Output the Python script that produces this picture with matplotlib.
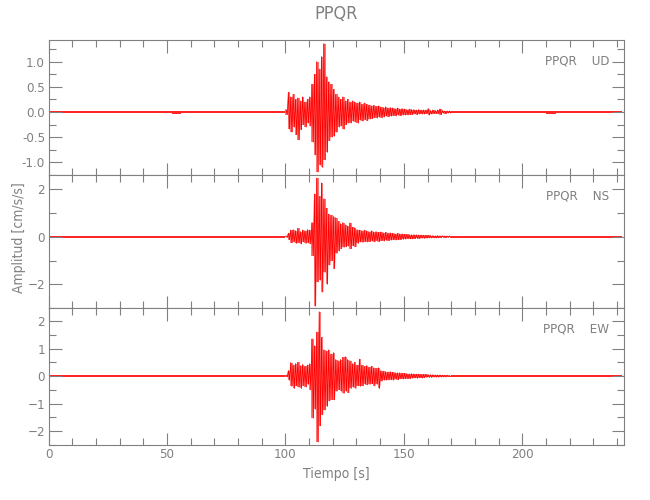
import numpy as np
import matplotlib.pyplot as plt
from matplotlib.ticker import MultipleLocator

plt.rcParams['font.family'] = ['DejaVu Sans']
plt.rcParams['font.stretch'] = 'condensed'
gray = '#808080'

station = 'PPQR'
components = ['UD', 'NS', 'EW']

# quiet parts: symmetric peak amplitude in 4 s bins
pre_t0 = 0
post_t0 = 170
quiet_dt = 4
ud_pre = [0.015, 0.015, 0.02, 0.015, 0.015, 0.02, 0.02, 0.015, 0.02, 0.015, 0.02, 0.02, 0.02,
          0.03, 0.025, 0.02, 0.02, 0.02, 0.02, 0.015, 0.02, 0.02, 0.025, 0.02, 0.02]
ud_post = [0.02, 0.02, 0.02, 0.02, 0.02, 0.02, 0.025, 0.02, 0.025, 0.025, 0.03, 0.025, 0.025,
           0.025, 0.025, 0.025, 0.025, 0.02]
ns_pre = [0.035] * 25
ns_post = [0.04, 0.035, 0.035, 0.035, 0.035, 0.035, 0.035, 0.035, 0.035, 0.035, 0.035, 0.035,
           0.035, 0.035, 0.035, 0.035, 0.035, 0.035]
ew_pre = [0.03] * 25
ew_post = [0.03] * 18

# event: upper / lower peaks in 1 s bins, 100 s .. 169 s
burst_t0 = 100
ud_up = [0.05, 0.39, 0.30, 0.35, 0.25, 0.28, 0.22, 0.30, 0.20, 0.25,
         0.30, 0.55, 0.75, 1.00, 0.85, 1.10, 1.36, 0.70, 0.60, 0.55,
         0.45, 0.35, 0.30, 0.25, 0.30, 0.22, 0.25, 0.20, 0.22, 0.20,
         0.18, 0.20, 0.16, 0.18, 0.15, 0.14, 0.12, 0.13, 0.11, 0.12,
         0.10, 0.09, 0.10, 0.08, 0.09, 0.08, 0.07, 0.08, 0.06, 0.07,
         0.06, 0.05, 0.06, 0.05, 0.05, 0.04, 0.05, 0.04, 0.04, 0.04,
         0.07, 0.03, 0.04, 0.03, 0.04, 0.06, 0.03, 0.02, 0.02, 0.02]
ud_lo = [-0.05, -0.34, -0.40, -0.30, -0.45, -0.55, -0.35, -0.25, -0.30, -0.22,
         -0.28, -0.60, -0.85, -1.19, -1.05, -1.10, -0.95, -0.80, -0.57, -0.50,
         -0.48, -0.40, -0.30, -0.28, -0.34, -0.25, -0.22, -0.22, -0.18, -0.20,
         -0.22, -0.16, -0.18, -0.15, -0.17, -0.14, -0.13, -0.11, -0.12, -0.10,
         -0.11, -0.10, -0.08, -0.09, -0.08, -0.07, -0.08, -0.06, -0.07, -0.06,
         -0.06, -0.06, -0.05, -0.05, -0.04, -0.05, -0.04, -0.04, -0.04, -0.03,
         -0.06, -0.04, -0.03, -0.03, -0.03, -0.05, -0.02, -0.03, -0.02, -0.02]
ns_up = [0.03, 0.15, 0.28, 0.30, 0.25, 0.35, 0.22, 0.28, 0.25, 0.30,
         0.28, 0.60, 1.80, 2.47, 1.70, 2.26, 1.60, 1.20, 0.95, 0.90,
         0.85, 0.80, 0.65, 0.55, 0.60, 0.50, 0.45, 0.58, 0.40, 0.38,
         0.30, 0.28, 0.26, 0.28, 0.24, 0.22, 0.25, 0.20, 0.22, 0.18,
         0.20, 0.16, 0.18, 0.15, 0.16, 0.14, 0.13, 0.14, 0.12, 0.12,
         0.10, 0.10, 0.09, 0.08, 0.09, 0.08, 0.07, 0.07, 0.06, 0.06,
         0.06, 0.05, 0.05, 0.04, 0.05, 0.04, 0.04, 0.03, 0.03, 0.03]
ns_lo = [-0.03, -0.12, -0.25, -0.22, -0.28, -0.25, -0.30, -0.22, -0.28, -0.25,
         -0.30, -0.80, -2.92, -1.90, -1.83, -2.33, -1.50, -2.00, -1.20, -1.00,
         -1.34, -0.70, -0.60, -0.50, -0.45, -0.42, -0.40, -0.50, -0.38, -0.42,
         -0.28, -0.22, -0.24, -0.20, -0.22, -0.20, -0.18, -0.22, -0.18, -0.20,
         -0.16, -0.18, -0.15, -0.16, -0.14, -0.13, -0.14, -0.12, -0.12, -0.11,
         -0.10, -0.09, -0.09, -0.09, -0.08, -0.07, -0.08, -0.06, -0.07, -0.06,
         -0.05, -0.05, -0.05, -0.05, -0.04, -0.04, -0.03, -0.04, -0.03, -0.03]
ew_up = [0.03, 0.20, 0.49, 0.40, 0.45, 0.50, 0.38, 0.42, 0.35, 0.40,
         0.45, 1.35, 1.10, 1.60, 2.33, 1.40, 0.95, 0.90, 0.95, 0.80,
         0.85, 0.60, 0.55, 0.60, 0.68, 0.70, 0.60, 0.55, 0.45, 0.50,
         0.40, 0.61, 0.40, 0.35, 0.38, 0.32, 0.35, 0.30, 0.28, 0.30,
         0.20, 0.18, 0.16, 0.15, 0.16, 0.14, 0.13, 0.12, 0.12, 0.10,
         0.10, 0.09, 0.08, 0.09, 0.08, 0.07, 0.07, 0.06, 0.06, 0.06,
         0.05, 0.05, 0.05, 0.04, 0.04, 0.04, 0.03, 0.03, 0.03, 0.02]
ew_lo = [-0.03, -0.15, -0.37, -0.45, -0.35, -0.40, -0.45, -0.35, -0.40, -0.30,
         -0.50, -1.53, -1.20, -2.39, -1.80, -1.40, -1.23, -1.10, -0.90, -0.85,
         -0.86, -0.55, -0.50, -0.55, -0.63, -0.55, -0.60, -0.45, -0.40, -0.45,
         -0.35, -0.37, -0.35, -0.30, -0.32, -0.30, -0.28, -0.35, -0.30, -0.45,
         -0.18, -0.15, -0.15, -0.14, -0.13, -0.15, -0.12, -0.13, -0.10, -0.11,
         -0.09, -0.09, -0.09, -0.08, -0.07, -0.08, -0.06, -0.07, -0.06, -0.05,
         -0.05, -0.05, -0.04, -0.04, -0.04, -0.03, -0.03, -0.03, -0.02, -0.02]

ylims = [(-1.25, 1.43), (-3.0, 2.6), (-2.5, 2.47)]
ymajor = [0.5, 2, 1]
yminor = [0.25, 1, 0.5]


def band(ax, t0, dt, up, lo, alpha):
    # step envelope covering each bin edge to edge
    te = t0 + dt * np.arange(len(up) + 1)
    ax.fill_between(te, list(lo) + [lo[-1]], list(up) + [up[-1]], step='post',
                    color='red', lw=0, alpha=alpha)


def zigzag(t0, dt, up, lo):
    t, y = [], []
    for i in range(len(up)):
        t += [t0 + (i + 0.25) * dt, t0 + (i + 0.75) * dt]
        y += [up[i], lo[i]]
    return t, y


panels = [(ud_pre, ud_up, ud_lo, ud_post),
          (ns_pre, ns_up, ns_lo, ns_post),
          (ew_pre, ew_up, ew_lo, ew_post)]

fig = plt.figure(figsize=(6.5, 5), dpi=100)
boxes = [(40, 175), (175, 308), (308, 445)]
left, right = 48.5 / 650, 623.5 / 650

for k, (ytop, ybot) in enumerate(boxes):
    top, bottom = 1 - ytop / 500, 1 - ybot / 500
    ax = fig.add_axes([left, bottom, right - left, top - bottom])
    pre, up, lo, post = panels[k]
    # quiet background as a thin band
    for t0, amp in ((pre_t0, pre), (post_t0, post)):
        band(ax, t0, quiet_dt, amp, [-a for a in amp], 0.85)
    # event: envelope plus zig-zag strokes
    band(ax, burst_t0, 1, up, lo, 0.55)
    tz, yz = zigzag(burst_t0, 1, up, lo)
    ax.plot(tz, yz, color='red', lw=0.6)
    ax.set_xlim(0, 242.7)
    ax.set_ylim(*ylims[k])
    ax.xaxis.set_major_locator(MultipleLocator(50))
    ax.xaxis.set_minor_locator(MultipleLocator(10))
    ax.yaxis.set_major_locator(MultipleLocator(ymajor[k]))
    ax.yaxis.set_minor_locator(MultipleLocator(yminor[k]))
    if k == 0:
        ax.yaxis.set_major_formatter(plt.FormatStrFormatter('%.1f'))
    ax.tick_params(which='both', direction='in', top=True, right=True,
                   colors=gray, labelcolor=gray, labelsize=9.5, width=0.8, pad=2.5)
    ax.tick_params(which='major', length=9)
    ax.tick_params(which='minor', length=5)
    for s in ax.spines.values():
        s.set_color(gray)
        s.set_linewidth(0.8)
    if k < 2:
        ax.tick_params(labelbottom=False)
    ax.text(0.975, 0.845, station + '    ' + components[k], transform=ax.transAxes,
            ha='right', va='center', color=gray, fontsize=9.5)

ax.set_xlabel('Tiempo [s]', color=gray, fontsize=10, labelpad=4)
fig.text(19 / 650, 1 - 238 / 500, 'Amplitud [cm/s/s]', rotation=90,
         ha='center', va='center', color=gray, fontsize=10)
fig.text(0.5 * (left + right), 1 - 14 / 500, station, ha='center', va='center',
         color=gray, fontsize=13)

plt.savefig('out.png', dpi=100)
